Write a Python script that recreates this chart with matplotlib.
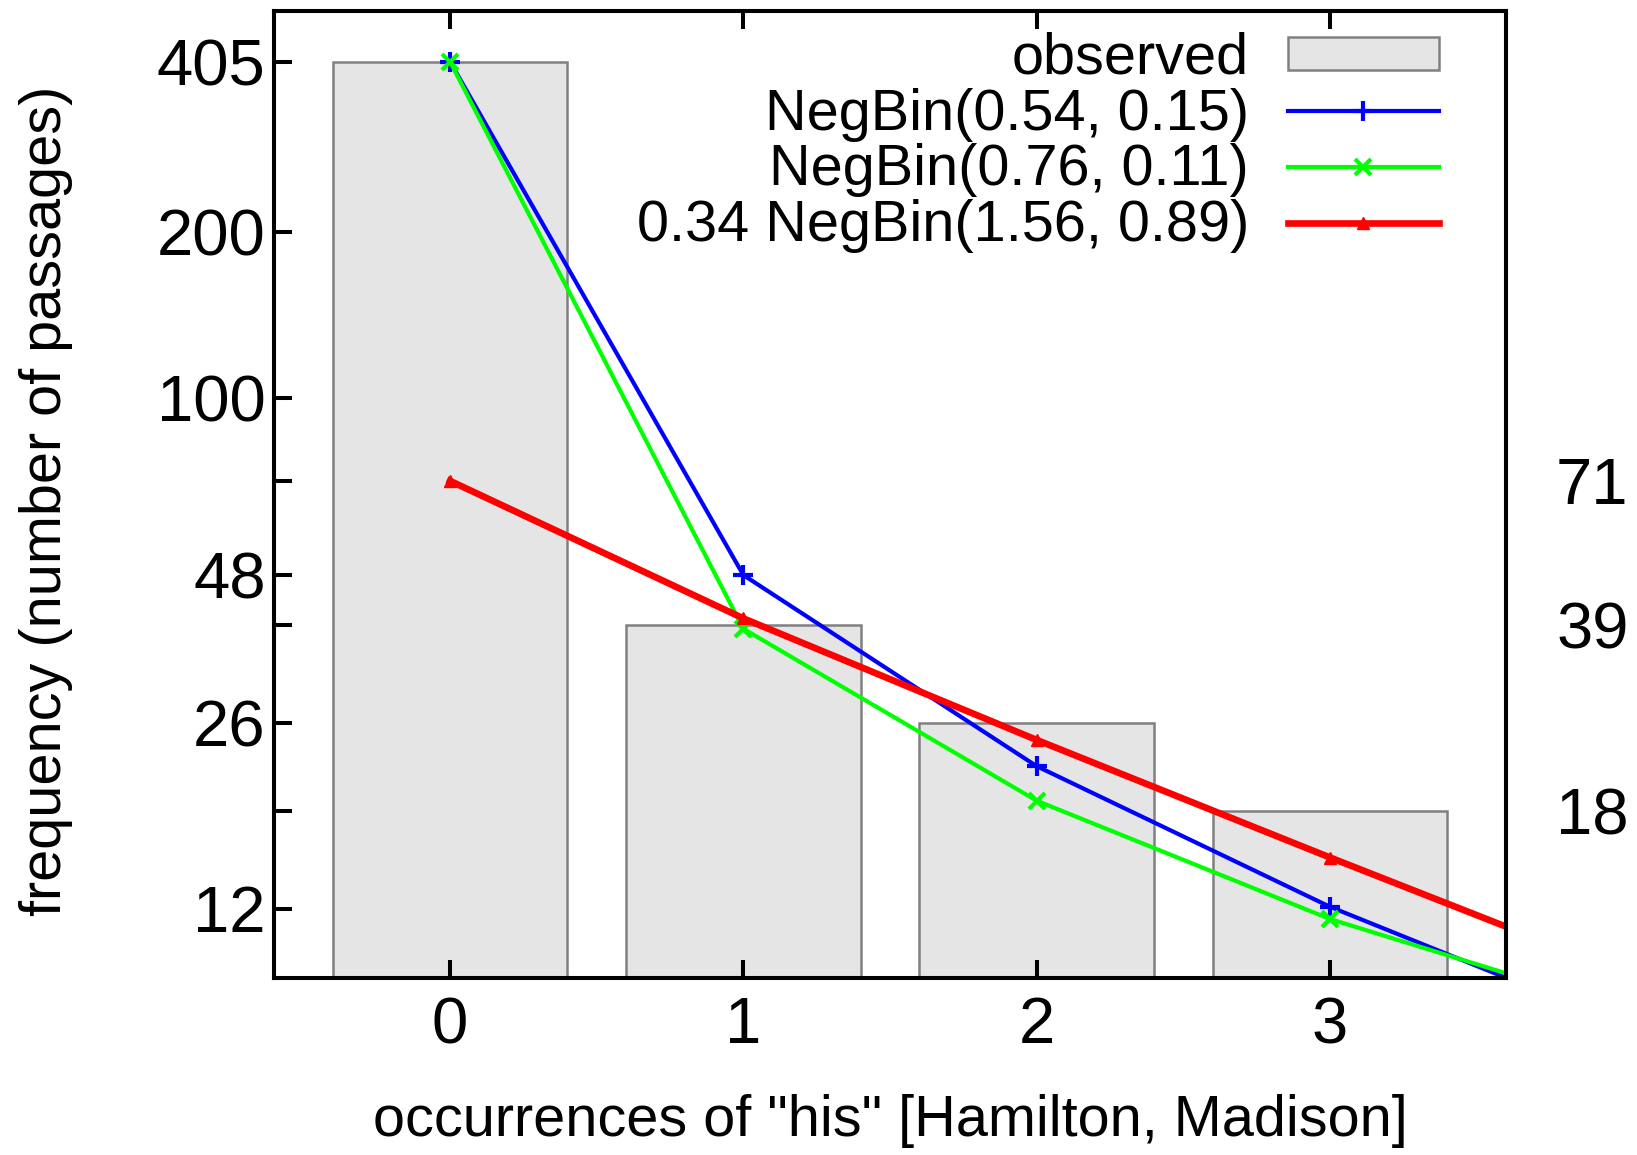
import matplotlib
matplotlib.use('Agg')
import matplotlib.pyplot as plt
import numpy as np

plt.rcParams['font.family'] = ['Liberation Sans', 'DejaVu Sans']

# data
k_obs = [0, 1, 2, 3]
observed = [405, 39, 26, 18]
k_fit = [0, 1, 2, 3, 4]
negbin_a = [405, 48, 21.7, 12.1, 7.4]
negbin_b = [405, 38.4, 18.8, 11.5, 7.9]
negbin_mix = [71, 40.1, 24.2, 14.85, 9.2]

left_ticks = [12, 26, 48, 100, 200, 405]
right_ticks = [18, 39, 71]

fs = 41.5
tfs = 47

fig = plt.figure(figsize=(16.37, 11.55), dpi=100)
ax = fig.add_axes([0.1674, 0.1532, 0.7526, 0.8373])

bars = ax.bar(k_obs, observed, width=0.8, color='#e5e5e5', edgecolor='#808080',
              linewidth=1.8, label='observed', zorder=1)
la, = ax.plot(k_fit, negbin_a, color='#0000ff', lw=3.0, marker='+', ms=14, mew=3,
              label='NegBin(0.54, 0.15)', zorder=3)
lb, = ax.plot(k_fit, negbin_b, color='#00ff00', lw=3.0, marker='x', ms=11, mew=3,
              label='NegBin(0.76, 0.11)', zorder=3)
lm, = ax.plot(k_fit, negbin_mix, color='#ff0000', lw=4.8, marker='^', ms=8,
              label='0.34 NegBin(1.56, 0.89)', zorder=4)

ax.set_yscale('log')
ax.set_ylim(9, 500)
ax.set_xlim(-0.6, 3.6)

all_ticks = sorted(left_ticks + right_ticks)
ax.set_yticks(all_ticks)
ax.set_yticklabels([str(t) if t in left_ticks else '' for t in all_ticks])
ax.yaxis.set_minor_locator(matplotlib.ticker.NullLocator())
ax.set_xticks(k_obs)
ax.tick_params(axis='both', direction='in', length=13, width=2.9,
               labelsize=tfs, top=True, right=True)
ax.tick_params(axis='y', pad=6)
ax.tick_params(axis='x', pad=13)

ax2 = ax.twinx()
ax2.set_yscale('log')
ax2.set_ylim(ax.get_ylim())
ax2.set_yticks(right_ticks)
ax2.set_yticklabels([str(t) for t in right_ticks])
ax2.yaxis.set_minor_locator(matplotlib.ticker.NullLocator())
ax2.tick_params(axis='y', direction='in', length=0, labelsize=tfs, pad=36)

for a in (ax, ax2):
    for s in a.spines.values():
        s.set_linewidth(2.9)

ax.set_xlabel('occurrences of "his" [Hamilton, Madison]', fontsize=fs, va='center')
ax.xaxis.set_label_coords(0.5, -0.148)
ax.set_ylabel('frequency (number of passages)', fontsize=fs)
ax.yaxis.set_label_coords(-0.163, 0.493)

leg = ax.legend([bars, la, lb, lm],
                ['observed', 'NegBin(0.54, 0.15)', 'NegBin(0.76, 0.11)',
                 '0.34 NegBin(1.56, 0.89)'],
                loc='upper right', frameon=False, fontsize=fs, markerfirst=False,
                handlelength=2.62, handleheight=0.5, handletextpad=0.67,
                labelspacing=0.03, borderaxespad=0.3, bbox_to_anchor=(0.978, 1.02))
for col in leg._legend_handle_box.get_children():
    col.align = 'right'

fig.savefig('out.png', dpi=100)
